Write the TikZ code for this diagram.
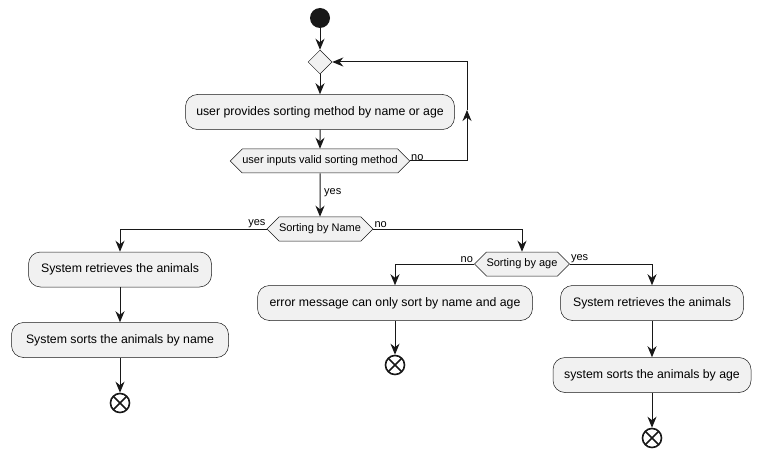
\documentclass[tikz,border=0pt]{standalone}
\usepackage{fontspec}
\setmainfont{Liberation Sans}
\usepackage{tikz}
\usepackage{xcolor}
\usetikzlibrary{shapes.geometric, shapes.symbols, arrows.meta, positioning, calc}
\definecolor{boxfill}{HTML}{F1F1F1}
\definecolor{ink}{HTML}{181818}

\begin{document}
\begin{tikzpicture}[x=1pt, y=-1pt,
  action/.style={draw=ink, fill=boxfill, line width=0.5pt, rounded corners=12pt, minimum height=35pt, inner sep=0pt, font=\fontsize{12.3}{14}\selectfont},
  choice/.style={draw=ink, fill=boxfill, line width=0.5pt, shape=signal, signal to=east and west, signal pointer angle=90, minimum height=24pt, inner sep=0pt, font=\fontsize{11}{13}\selectfont},
  merge/.style={draw=ink, fill=boxfill, line width=0.5pt, diamond, minimum size=24pt, inner sep=0pt},
  flow/.style={draw=ink, line width=1pt, -{Stealth[length=11pt, width=9pt, inset=3.5pt]}},
  lbl/.style={inner sep=1pt, font=\fontsize{11}{13}\selectfont},
  begin/.style={circle, fill=ink, minimum size=20pt, inner sep=0pt},
  finish/.style={circle, draw=ink, fill=white, line width=1.6pt, minimum size=19pt, inner sep=0pt,
    path picture={\draw[ink, line width=1.6pt] (path picture bounding box.north west) -- (path picture bounding box.south east)
      (path picture bounding box.north east) -- (path picture bounding box.south west);}}]
\useasboundingbox (0,0) rectangle (760,457);

% input loop
\node[begin] (start) at (320,18) {};
\node[merge] (join) at (320,62) {};
\node[action, minimum width=269pt] (provide) at (320,112) {user provides sorting method by name or age};
\node[choice, minimum width=177pt] (valid) at (320,161) {user inputs valid sorting method};
\coordinate (loopup) at (467,110);
\draw[flow] (start) -- (join);
\draw[flow] (join) -- (provide);
\draw[flow] (provide) -- (valid);
\draw[flow] (valid.east) -| (loopup);
\draw[flow] (loopup) |- (join.east);
\node[lbl, anchor=south west] at ($(valid.east)+(0,1)$) {no};

% sorting by name
\node[choice, minimum width=104pt] (byname) at (320,229) {Sorting by Name};
\draw[flow] (valid) -- (byname);
\node[lbl, anchor=west] at (323,193) {yes};
\node[action, minimum width=183pt] (getname) at (120,269.5) {System retrieves the animals};
\node[action, minimum width=217pt] (sortname) at (120,340) {System sorts the animals by name};
\node[finish] (endname) at (120,403) {};
\draw[flow] (byname.west) -| (getname.north);
\draw[flow] (getname) -- (sortname);
\draw[flow] (sortname) -- (endname);
\node[lbl, anchor=south east] at (byname.west) {yes};
\node[lbl, anchor=south west] at (byname.east) {no};

% sorting by age
\node[choice, minimum width=93pt] (byage) at (522,264) {Sorting by age};
\draw[flow] (byname.east) -| (byage.north);
\node[action, minimum width=275pt] (errmsg) at (395,303) {error message can only sort by name and age};
\node[finish] (enderr) at (395,365) {};
\draw[flow] (byage.west) -| (errmsg.north);
\draw[flow] (errmsg) -- (enderr);
\node[lbl, anchor=south east] at (byage.west) {no};
\node[action, minimum width=183pt] (getage) at (652,303) {System retrieves the animals};
\node[action, minimum width=198pt] (sortage) at (652,375) {system sorts the animals by age};
\node[finish] (endage) at (652,438) {};
\draw[flow] (byage.east) -| (getage.north);
\draw[flow] (getage) -- (sortage);
\draw[flow] (sortage) -- (endage);
\node[lbl, anchor=south west] at (byage.east) {yes};
\end{tikzpicture}
\end{document}
